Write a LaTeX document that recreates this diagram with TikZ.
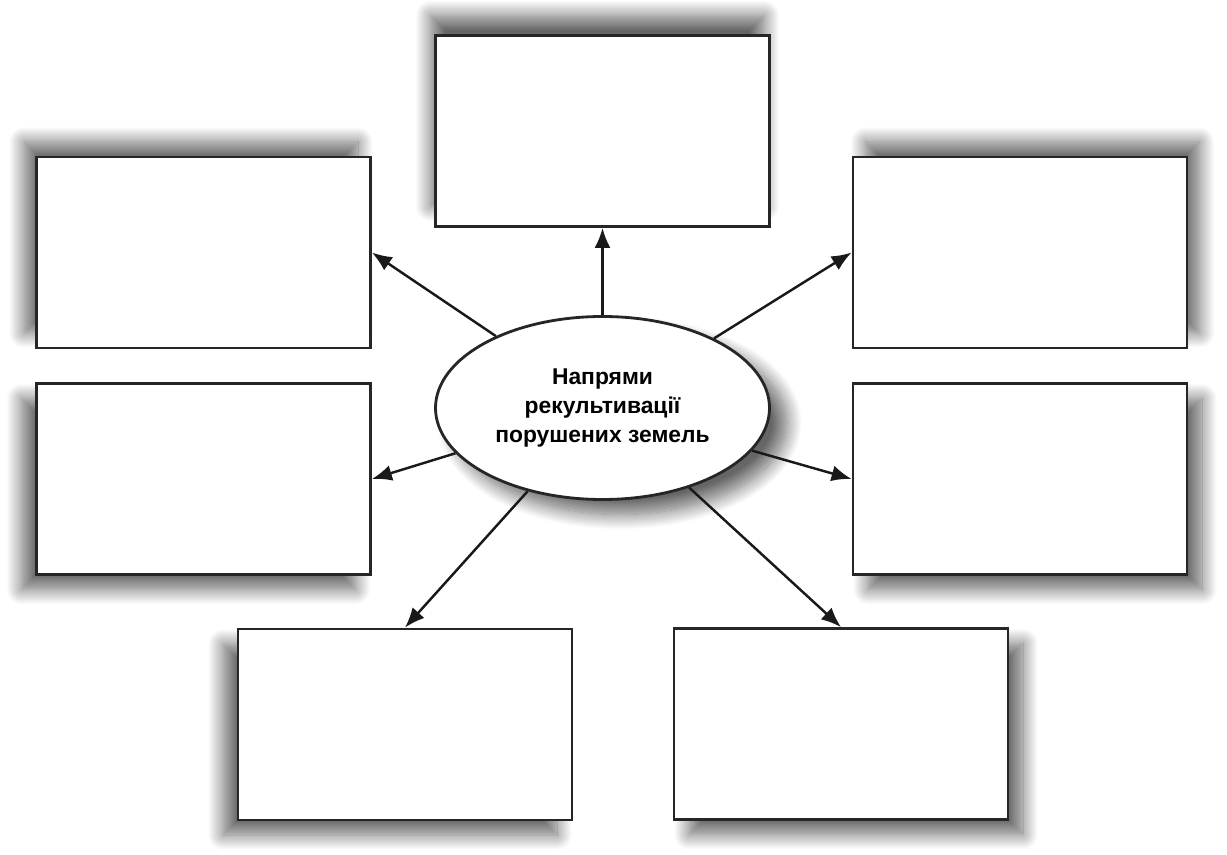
\documentclass[tikz,border=0pt]{standalone}
\usepackage{fontspec}
\setmainfont{Liberation Sans}
\usepackage{tikz}
\usetikzlibrary{arrows.meta,positioning,shapes.geometric,shadows.blur}

\begin{document}
\begin{tikzpicture}[
  font=\bfseries,
  ramka/.style={draw=black!85,line width=1.6pt,fill=white,
    minimum width=6.68cm,minimum height=3.82cm,inner sep=0pt},
  tin/.style 2 args={blur shadow={shadow xshift=#1,shadow yshift=#2,
    shadow blur radius=3mm,shadow blur steps=20,shadow opacity=60}},
  strilka/.style={-{Latex[length=4mm,width=3.2mm]},line width=1.4pt,black!90}
]
  \useasboundingbox (0,0) rectangle (24.54,17.08);

  % Центральний овал.
  \node[ellipse,draw=black!85,line width=1.6pt,fill=white,
    minimum width=6.68cm,minimum height=3.66cm,align=center,tin={3.5mm}{-3mm},
    font=\bfseries\fontsize{13}{16.5}\selectfont] (napr) at (12.05,8.92)
    {Напрями\\рекультивації\\порушених земель};

  % Порожні рамки навколо.
  \node[ramka,tin={-1mm}{4mm}] (verkh) at (12.05,14.46) {};
  \node[ramka,tin={-2.5mm}{3mm}] (livverkh) at (4.07,12.03) {};
  \node[ramka,tin={2.5mm}{3mm}] (pravverkh) at (20.40,12.03) {};
  \node[ramka,tin={-3mm}{-3mm}] (livser) at (4.07,7.50) {};
  \node[ramka,tin={3mm}{-3mm}] (pravser) at (20.40,7.50) {};
  \node[ramka,tin={-3mm}{-3mm}] (livniz) at (8.10,2.59) {};
  \node[ramka,tin={3mm}{-3mm}] (pravniz) at (16.82,2.60) {};

  \draw[strilka] (napr) -- (verkh);
  \draw[strilka] (napr) -- (livverkh.east);
  \draw[strilka] (napr) -- (pravverkh.west);
  \draw[strilka] (napr) -- (livser.east);
  \draw[strilka] (napr) -- (pravser.west);
  \draw[strilka] (napr) -- (livniz.north);
  \draw[strilka] (napr) -- (pravniz.north);
\end{tikzpicture}
\end{document}
